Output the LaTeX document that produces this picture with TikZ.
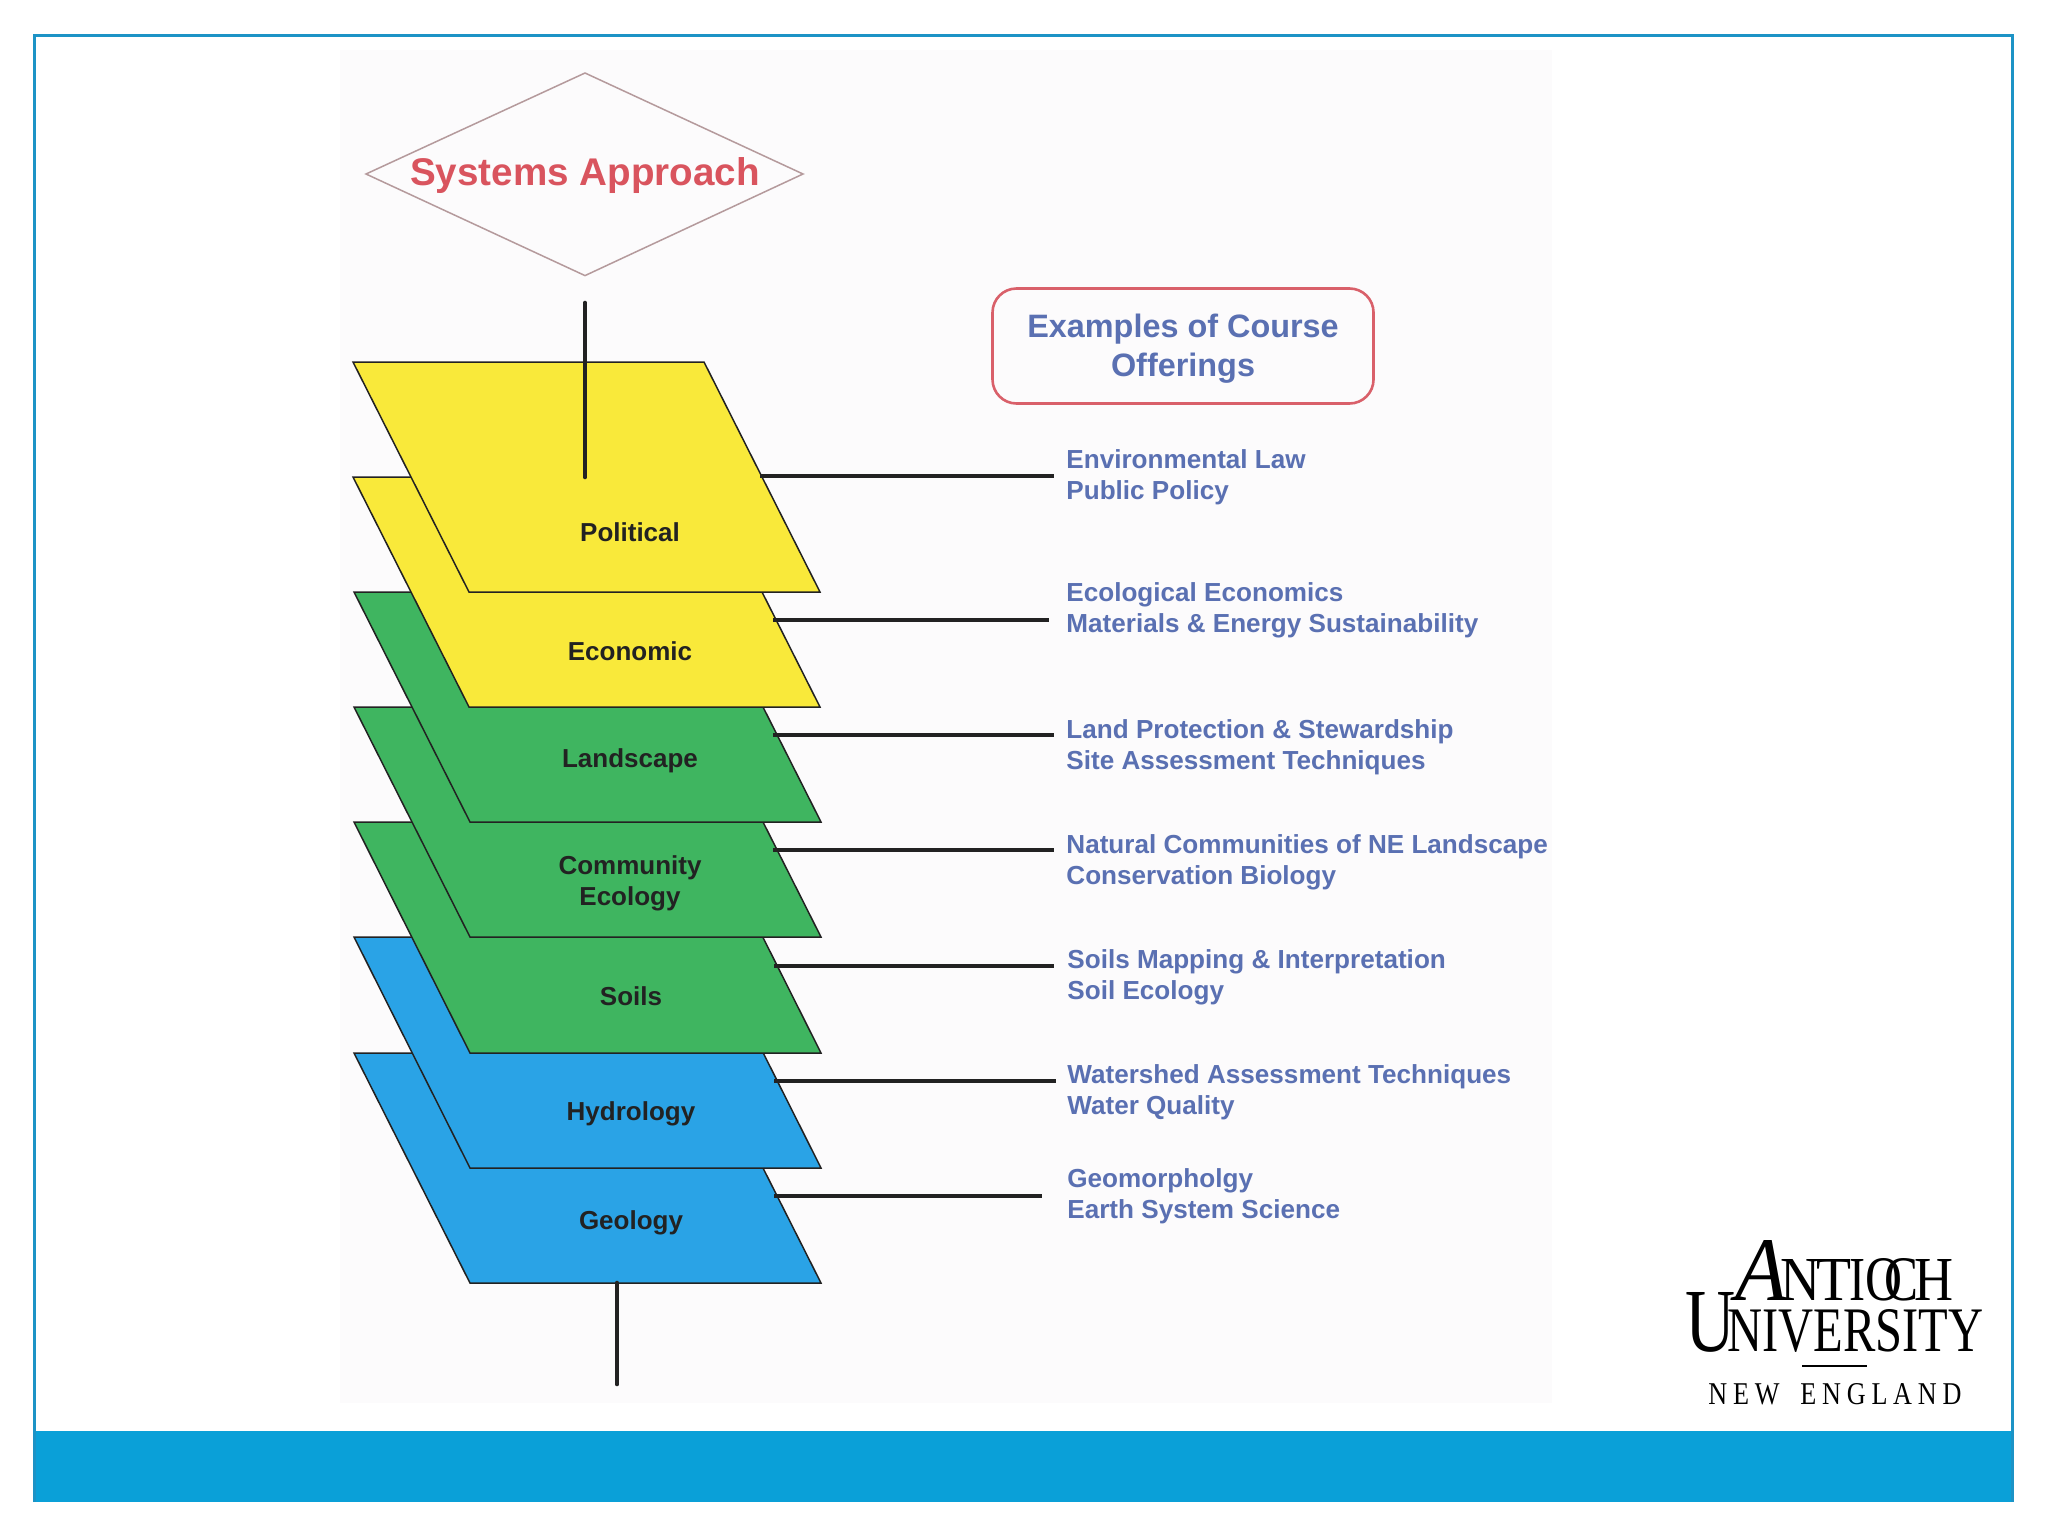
\documentclass[tikz,border=0pt]{standalone}
\usepackage{graphicx}
\usepackage{fontspec}
\setmainfont{Liberation Sans}
\newfontfamily\logofont{Liberation Serif}
\definecolor{frameblue}{HTML}{0AA0D8}
\definecolor{framedark}{HTML}{1C93C6}
\definecolor{panelgrey}{HTML}{FCFBFC}
\definecolor{ylw}{HTML}{F9E93A}
\definecolor{grn}{HTML}{3FB560}
\definecolor{blu}{HTML}{2AA3E6}
\definecolor{txtblue}{HTML}{5A70B2}
\definecolor{redtxt}{HTML}{D9545E}
\definecolor{boxred}{HTML}{D9606A}
\definecolor{diaedge}{HTML}{B59A9C}
\definecolor{ink}{HTML}{222222}
\tikzset{
  x=0.5pt,y=-0.5pt,
  layerstyle/.style={draw=ink,line width=0.75pt,line join=miter},
  layerlabel/.style={font=\fontsize{13}{15.5}\selectfont\bfseries,text=ink,align=center,inner sep=0pt},
  offer/.style={font=\fontsize{13.05}{15.35}\selectfont\bfseries,text=txtblue,align=left,anchor=west,inner sep=0pt},
  conn/.style={draw=ink,line width=1.9pt},
  stem/.style={draw=ink,line width=2.3pt,line cap=round},
  lg/.style={inner sep=0pt,anchor=base west,text=black},
}
% #1 name, #2 x of top-left, #3 y top, #4 y bottom, #5 colour
\newcommand{\layerpoly}[5]{%
  \coordinate (#1a) at (#2,#3);
  \coordinate (#1b) at ({#2+351},#3);
  \coordinate (#1c) at ({#2+467},#4);
  \coordinate (#1d) at ({#2+116},#4);
  \path[layerstyle,fill=#5] (#1a) -- (#1b) -- (#1c) -- (#1d) -- cycle;
}
% #1 name, #2 x0, #3 x1, #4 ytop, #5 ybase, #6 text
\newcommand{\logobox}[6]{%
  \node[lg] (#1) at (#2,#5) {\resizebox{\dimexpr 0.5pt*\numexpr#3-#2\relax\relax}{\dimexpr 0.5pt*\numexpr#5-#4\relax\relax}{\logofont #6}};
}
\begin{document}
\begin{tikzpicture}
\useasboundingbox (0,0) rectangle (2048,1536);
\fill[white] (0,0) rectangle (2048,1536);
\fill[frameblue] (33,1431) rectangle (2013,1502);
\draw[framedark,line width=1.5pt] (34.5,1502) -- (34.5,35.5) -- (2012.5,35.5) -- (2012.5,1502);
\fill[panelgrey] (340,50) rectangle (1552,1403);

% diamond
\coordinate (dt) at (585,73);
\coordinate (dr) at (803,174);
\coordinate (db) at (585,275.6);
\coordinate (dl) at (366,174);
\draw[diaedge,line width=0.75pt] (dt) -- (dr) -- (db) -- (dl) -- cycle;
\node[inner sep=0pt,font=\fontsize{19.3}{23}\selectfont\bfseries,text=redtxt] (title) at (585,176) {Systems Approach};

% layers, bottom first
\layerpoly{geo}{354}{1053}{1283}{blu}
\layerpoly{hyd}{354}{937}{1168}{blu}
\layerpoly{soi}{354}{822}{1053}{grn}
\layerpoly{com}{354}{707}{937}{grn}
\layerpoly{lan}{354}{592}{822}{grn}
\layerpoly{eco}{353}{477}{707}{ylw}
\layerpoly{pol}{353}{362}{592}{ylw}

\node[layerlabel] (lpol) at (630,532) {Political};
\node[layerlabel] (leco) at (630,651) {Economic};
\node[layerlabel] (llan) at (630,761) {Landscape};
\node[layerlabel] (lcom) at (630,883) {Community\\Ecology};
\node[layerlabel] (lsoi) at (631,996) {Soils};
\node[layerlabel] (lhyd) at (631,1114) {Hydrology};
\node[layerlabel] (lgeo) at (631,1223) {Geology};

% stems
\coordinate (s1) at (585,303);
\coordinate (s2) at (585,477);
\coordinate (s3) at (617,1283);
\coordinate (s4) at (617,1384);
\draw[stem] (s1) -- (s2);
\draw[stem] (s3) -- (s4);

% course box
\node[draw=boxred,line width=1.3pt,rounded corners=12pt,minimum width=190.5pt,minimum height=57.5pt,inner sep=0pt,
  font=\fontsize{16.2}{19.6}\selectfont\bfseries,text=txtblue,align=center] (examples) at (1183,346) {\rule{0pt}{14.2pt}Examples of Course\\Offerings};

% offerings
\node[offer] (t1) at (1066,477.5) {Environmental Law\\Public Policy};
\node[offer] (t2) at (1066,610.5) {Ecological Economics\\Materials \& Energy Sustainability};
\node[offer] (t3) at (1066,747.5) {Land Protection \& Stewardship\\Site Assessment Techniques};
\node[offer] (t4) at (1066,862.5) {Natural Communities of NE Landscape\\Conservation Biology};
\node[offer] (t5) at (1067,977.5) {Soils Mapping \& Interpretation\\Soil Ecology};
\node[offer] (t6) at (1067,1092.5) {Watershed Assessment Techniques\\Water Quality};
\node[offer] (t7) at (1067,1196.5) {Geomorpholgy\\Earth System Science};

% connectors
\coordinate (c1a) at (760,476);  \coordinate (c1b) at (1054,476);
\coordinate (c2a) at (773,620);  \coordinate (c2b) at (1049,620);
\coordinate (c3a) at (773,735);  \coordinate (c3b) at (1054,735);
\coordinate (c4a) at (773,850);  \coordinate (c4b) at (1054,850);
\coordinate (c5a) at (774,966);  \coordinate (c5b) at (1054,966);
\coordinate (c6a) at (774,1081); \coordinate (c6b) at (1056,1081);
\coordinate (c7a) at (774,1196); \coordinate (c7b) at (1042,1196);
\foreach \i in {1,...,7} \draw[conn] (c\i a) -- (c\i b);

% logo
\logobox{lA}{1735}{1787}{1240}{1300}{\itshape A}
\logobox{lN}{1780}{1820}{1259}{1300}{N}
\logobox{lT}{1816}{1851}{1259}{1300}{T}
\logobox{lI}{1849}{1865}{1259}{1300}{I}
\logobox{lO}{1865}{1902}{1258}{1300}{O}
\logobox{lC}{1884}{1918}{1258}{1300}{C}
\logobox{lH}{1914}{1953}{1259}{1300}{H}
\logobox{lU}{1685}{1735}{1292}{1351}{U}
\logobox{lUni}{1727}{1983}{1309}{1351}{NIVERSITY}
\coordinate (r1) at (1802,1366);
\coordinate (r2) at (1867,1366);
\draw[black,line width=0.6pt] (r1) -- (r2);
\logobox{lNE}{1708}{1961}{1383}{1404}{N\kern.22em E\kern.22em W\kern.8em E\kern.22em N\kern.22em G\kern.22em L\kern.22em A\kern.22em N\kern.22em D}
\end{tikzpicture}
\end{document}
